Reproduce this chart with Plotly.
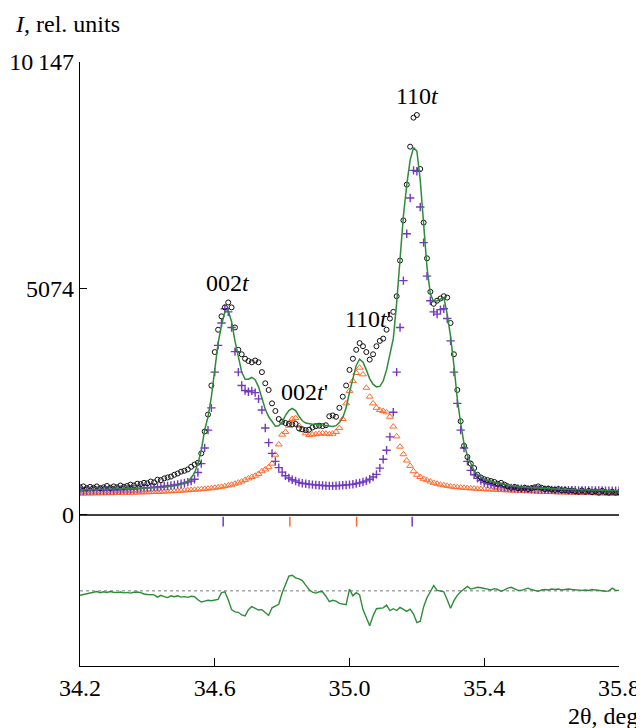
import numpy as np
import plotly.graph_objects as go

# 2theta grid (deg), step 0.01
two_theta = np.round(np.linspace(34.2, 35.8, 161), 2)

observed = [
    620, 640, 600, 630, 610, 640, 600, 620, 650, 610,
    640, 620, 660, 630, 650, 680, 660, 700, 690, 720,
    710, 750, 730, 790, 780, 820, 840, 860, 900, 930,
    970, 990, 1020, 1080, 1130, 1170, 1380, 1870, 2250, 2900,
    3650, 4150, 4450, 4650, 4760, 4650, 4200, 3700, 3600, 3500,
    3450, 3420, 3460, 3420, 3200, 2950, 2800, 2500, 2330, 2150,
    2090, 2060, 2040, 2030, 2040, 1940, 1920, 1900, 1910, 1960,
    1990, 2000, 1990, 2010, 2210, 2230, 2200, 2400, 2650, 2900,
    3250, 3500, 3700, 3850, 3780, 3650, 3480, 3600, 3780, 3900,
    3950, 4150, 4400, 4550, 4900, 5700, 6600, 7400, 8250, 8900,
    8960, 7750, 6550, 5750, 5000, 4730, 4800, 4850, 4900, 4870,
    4300, 3600, 2800, 2100, 1550, 1300, 1150, 1050, 900, 840,
    800, 780, 760, 740, 700, 720, 680, 640, 610, 630,
    600, 590, 610, 580, 600, 620, 640, 610, 580, 590,
    570, 560, 580, 550, 560, 540, 550, 530, 520, 550,
    520, 540, 510, 530, 500, 540, 510, 500, 520, 500,
    510,
]

phase_t = [
    540, 540, 545, 545, 550, 550, 552, 555, 555, 558,
    560, 562, 565, 568, 572, 576, 580, 585, 592, 600,
    608, 615, 620, 627, 634, 642, 650, 660, 670, 685,
    700, 715, 735, 760, 800, 950, 1150, 1500, 1900, 2400,
    3200, 3800, 4300, 4620, 4550, 4200, 3660, 3200, 2900, 2790,
    2760, 2780, 2740, 2600, 2350, 1950, 1620, 1380, 1200, 1060,
    960, 880, 830, 790, 760, 730, 710, 700, 690, 680,
    670, 665, 660, 655, 652, 652, 655, 660, 665, 670,
    680, 690, 705, 720, 740, 765, 800, 850, 910, 1050,
    1250, 1450, 1750, 2300, 3200, 4200, 5250, 6300, 7100, 7720,
    7700, 6900, 6100, 5350, 4800, 4550, 4500, 4600, 4620, 4400,
    3900, 3200, 2500, 1900, 1500, 1200, 1000, 900, 820, 770,
    730, 700, 680, 660, 645, 632, 622, 613, 605, 598,
    592, 587, 583, 579, 576, 573, 570, 568, 566, 564,
    562, 560, 558, 557, 556, 555, 554, 553, 552, 551,
    550, 549, 548, 548, 547, 547, 546, 546, 545, 545,
    545,
]

phase_t_prime = [
    480, 480, 482, 483, 484, 485, 486, 487, 488, 489,
    490, 492, 494, 496, 498, 500, 502, 504, 506, 508,
    510, 512, 515, 518, 521, 524, 528, 532, 536, 540,
    545, 550, 555, 560, 566, 572, 578, 585, 592, 600,
    610, 620, 632, 645, 660, 678, 700, 725, 752, 785,
    820, 850, 880, 920, 980, 1020, 1070, 1150, 1350, 1580,
    1800, 1860, 2000, 2150, 2170, 2000, 1900, 1830, 1790, 1800,
    1810, 1820, 1830, 1820, 1810, 1820, 1860, 1950, 2150, 2500,
    2780, 3000, 3180, 3300, 3150, 2850, 2650, 2500, 2400, 2350,
    2330, 2300, 2200, 1980, 1760, 1530, 1360, 1220, 1100, 980,
    900, 850, 810, 780, 750, 720, 700, 680, 665, 652,
    640, 630, 622, 615, 608, 602, 597, 592, 587, 582,
    578, 574, 570, 566, 562, 558, 555, 552, 549, 546,
    543, 540, 537, 534, 531, 528, 525, 522, 519, 516,
    513, 511, 509, 507, 505, 503, 501, 499, 497, 495,
    493, 491, 489, 487, 485, 483, 481, 479, 477, 476,
    475,
]

calculated = [
    560, 562, 563, 565, 566, 568, 569, 570, 572, 573,
    575, 577, 579, 581, 583, 585, 588, 590, 593, 596,
    600, 603, 607, 611, 616, 622, 630, 640, 652, 665,
    685, 715, 760, 830, 940, 1150, 1450, 1900, 2200, 2650,
    3300, 3850, 4250, 4550, 4580, 4330, 3900, 3540, 3200, 3040,
    3040, 3080, 3030, 2870, 2600, 2370, 2200, 2080, 1990, 2000,
    2080, 2230, 2340, 2390, 2340, 2210, 2110, 2060, 2040, 2035,
    2030, 2020, 2010, 2000, 1990, 1980, 2000, 2070, 2180, 2400,
    2750, 3080, 3350, 3490, 3420, 3250, 3050, 2930, 2870, 2880,
    3000, 3250, 3600, 3950, 4750, 5750, 6700, 7400, 7950, 8230,
    8150, 7500, 6450, 5550, 4950, 4780, 4800, 4840, 4870, 4500,
    4000, 3350, 2600, 2050, 1600, 1330, 1150, 990, 900, 840,
    800, 775, 750, 730, 715, 700, 685, 670, 655, 645,
    635, 629, 623, 617, 611, 605, 601, 597, 593, 589,
    585, 582, 579, 576, 573, 570, 568, 566, 564, 562,
    560, 558, 556, 555, 553, 551, 550, 549, 547, 546,
    545,
]

difference = [
    -100, -80, -60, -40, -30, -15, -40, -20, -35, -15,
    -30, -40, -25, -45, -35, -50, -30, -25, -40, -70,
    -80, -85, -90, -140, -100, -130, -150, -110, -130, -110,
    -140, -130, -145, -120, -130, -200, -250, -230, -210, -220,
    -200, -190, -40, -20, -200, -420, -470, -480, -540, -560,
    -420, -350, -390, -430, -420, -480, -550, -380, -330, -300,
    -50, 150, 330, 350, 290, 270, 230, 130, 30, -30,
    -50, -20, -20, -120, -240, -210, -230, -280, -300, -310,
    40, -110, -40, -90, -420, -600, -780, -560, -400, -390,
    -380, -320, -440, -400, -440, -370, -420, -460, -410, -520,
    -710, -680, -360, -150, -20, 120, 10, -10, -20, -200,
    -390, -220, -100, -20, 40, 100, 40, 60, 80, 70,
    60, 40, 20, 50, 30, -10, 20, 60, 80, 40,
    10, 10, 40, 60, 30, 10, -10, 20, 30, 20,
    40, 30, 40, 20, 30, 40, 30, 20, 10, 10,
    20, 10, 30, 20, 20, 10, -10, 0, 60, 10,
    10,
]
difference_offset = -1700

bragg_t = [34.625, 35.186]
bragg_t_prime = [34.823, 35.021]
bragg_level = -150

x_ticks = [34.2, 34.6, 35.0, 35.4, 35.8]
x_ticktext = ["34.2", "34.6", "35.0", "35.4", "35.8"]
y_ticks = [0, 5074, 10147]
y_ticktext = ["0", "5074", "10\u2009147"]

peak_labels = ["002<i>t</i>", "002<i>t</i>'", "110<i>t</i>'", "110<i>t</i>"]
peak_label_x = [34.64, 34.865, 35.054, 35.203]
peak_label_y = [5197, 2755, 4400, 9386]

PURPLE = "#7338c4"
ORANGE = "#ff6a2b"
GREEN = "#2e8b3a"
FONT = "Liberation Serif, Times New Roman, serif"

fig = go.Figure()

fig.add_trace(go.Scatter(
    x=two_theta, y=phase_t_prime, mode="markers",
    marker=dict(symbol="triangle-up-open", size=6, color=ORANGE,
                line=dict(width=1, color=ORANGE)),
    showlegend=False))
fig.add_trace(go.Scatter(
    x=two_theta, y=phase_t, mode="markers",
    marker=dict(symbol="cross-thin-open", size=6, color=PURPLE,
                line=dict(width=1.4, color=PURPLE)),
    showlegend=False))
fig.add_trace(go.Scatter(
    x=two_theta, y=observed, mode="markers",
    marker=dict(symbol="circle-open", size=5, color="#111111",
                line=dict(width=1, color="#111111")),
    showlegend=False))
fig.add_trace(go.Scatter(
    x=two_theta, y=calculated, mode="lines",
    line=dict(color=GREEN, width=1.5), showlegend=False))

# difference curve
fig.add_trace(go.Scatter(
    x=[two_theta[0], two_theta[-1]], y=[difference_offset, difference_offset],
    mode="lines", line=dict(color="#777777", width=1, dash="dot"),
    showlegend=False))
fig.add_trace(go.Scatter(
    x=two_theta, y=[d + difference_offset for d in difference], mode="lines",
    line=dict(color=GREEN, width=1.4), showlegend=False))

# Bragg position ticks
fig.add_trace(go.Scatter(
    x=bragg_t, y=[bragg_level] * len(bragg_t), mode="markers",
    marker=dict(symbol="line-ns-open", size=7, color=PURPLE,
                line=dict(width=1.5, color=PURPLE)),
    showlegend=False))
fig.add_trace(go.Scatter(
    x=bragg_t_prime, y=[bragg_level] * len(bragg_t_prime), mode="markers",
    marker=dict(symbol="line-ns-open", size=7, color=ORANGE,
                line=dict(width=1.5, color=ORANGE)),
    showlegend=False))

for txt, lx, ly in zip(peak_labels, peak_label_x, peak_label_y):
    fig.add_annotation(x=lx, y=ly, text=txt, showarrow=False,
                       font=dict(family=FONT, size=24, color="black"))

fig.add_shape(type="line", xref="paper", x0=0, x1=1, yref="y", y0=0, y1=0,
              line=dict(color="black", width=1.3))

fig.add_annotation(xref="paper", yref="paper", x=-0.125, y=1.0, yshift=38,
                   xanchor="left", yanchor="middle",
                   text="<i>I</i>, rel. units", showarrow=False,
                   font=dict(family=FONT, size=24, color="black"))
fig.add_annotation(xref="paper", yref="paper", x=1.039, y=0, yshift=-50,
                   xanchor="right", yanchor="middle",
                   text="2θ, deg", showarrow=False,
                   font=dict(family=FONT, size=24, color="black"))

# the page adds an 8 px body margin, so the figure is 8 px smaller on each side
fig.update_layout(
    width=636, height=720, autosize=False,
    margin=dict(l=72, r=25, t=54, b=62),
    paper_bgcolor="white", plot_bgcolor="white",
    xaxis=dict(range=[34.2, 35.8], tickvals=x_ticks, ticktext=x_ticktext,
               ticks="inside", ticklen=8, tickwidth=1.2, tickcolor="black",
               showline=True, linecolor="black", linewidth=1.3,
               showgrid=False, zeroline=False, automargin=False,
               tickfont=dict(family=FONT, size=24, color="black")),
    yaxis=dict(range=[-3383, 10147], tickvals=y_ticks, ticktext=y_ticktext,
               ticks="inside", ticklen=7, tickwidth=1.2, tickcolor="black",
               showline=True, linecolor="black", linewidth=1.3,
               showgrid=False, zeroline=False, automargin=False,
               tickfont=dict(family=FONT, size=24, color="black")),
)

fig.write_html("out.html")
